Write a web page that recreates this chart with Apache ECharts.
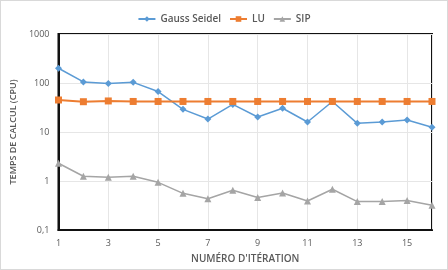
<!DOCTYPE html>
<html>
<head>
<meta charset="utf-8">
<script src="https://cdn.jsdelivr.net/npm/echarts@6/dist/echarts.min.js"></script>
<style>
    html, body { margin: 0; padding: 0; background: #fff; }
    #chart { width: 446px; height: 268px; border: 1px solid #d9d9d9; }
</style>
</head>
<body>
<div id="chart"></div>
<script>
    // itérations
    var iterations = [1, 2, 3, 4, 5, 6, 7, 8, 9, 10, 11, 12, 13, 14, 15, 16];
    // temps de calcul (CPU)
    var gaussSeidel = [200, 105, 98, 103, 67, 29, 18.4, 36.5, 20.2, 30.5, 16, 42, 15, 16, 17.5, 12.5];
    var lu = [45, 41.5, 43, 42, 42, 42, 42, 42, 42, 42, 42, 42, 42, 42, 42, 42];
    var sip = [2.3, 1.25, 1.19, 1.25, 0.94, 0.56, 0.435, 0.65, 0.46, 0.57, 0.39, 0.68, 0.38, 0.38, 0.4, 0.32];

    function pairs(vals) {
        return iterations.map(function (x, i) { return [x, vals[i]]; });
    }

    var font = 'Open Sans';
    var myChart = echarts.init(document.getElementById('chart'));
    myChart.setOption({
        animation: false,
        textStyle: { fontFamily: font },
        legend: {
            top: 8,
            left: 'center',
            itemWidth: 17,
            itemHeight: 7,
            itemGap: 8,
            textStyle: { color: '#595959', fontSize: 10, fontWeight: 600 },
            data: ['Gauss Seidel', 'LU', 'SIP']
        },
        grid: {
            left: 53, right: 15, top: 33, bottom: 39,
            show: true, borderColor: '#111', borderWidth: 2
        },
        xAxis: {
            type: 'value',
            min: 1, max: 16, interval: 2,
            name: "NUMÉRO D'ITÉRATION",
            nameLocation: 'middle',
            nameGap: 24,
            nameTextStyle: { color: '#595959', fontSize: 10, fontWeight: 600 },
            axisLine: { lineStyle: { color: '#111', width: 2 } },
            axisTick: { show: false },
            axisLabel: { color: '#595959', fontSize: 9, showMaxLabel: false, margin: 9 },
            splitLine: { lineStyle: { color: '#e6e6e6' } }
        },
        yAxis: {
            type: 'log',
            min: 0.1, max: 1000, logBase: 10,
            name: 'TEMPS DE CALCUL (CPU)',
            nameLocation: 'middle',
            nameGap: 30,
            nameTextStyle: { color: '#595959', fontSize: 9, fontWeight: 600 },
            axisLine: { show: true, lineStyle: { color: '#111', width: 2 } },
            axisTick: { show: false },
            axisLabel: {
                color: '#595959', fontSize: 9, margin: 9,
                formatter: function (v) { return String(v).replace('.', ','); }
            },
            splitLine: { lineStyle: { color: '#e6e6e6' } }
        },
        series: [
            {
                name: 'Gauss Seidel', type: 'line',
                symbol: 'diamond', symbolSize: 7,
                itemStyle: { color: '#5b9bd5' },
                lineStyle: { width: 1.5 },
                data: pairs(gaussSeidel)
            },
            {
                name: 'LU', type: 'line',
                symbol: 'rect', symbolSize: 7,
                itemStyle: { color: '#ed7d31' },
                lineStyle: { width: 2 },
                data: pairs(lu)
            },
            {
                name: 'SIP', type: 'line',
                symbol: 'triangle', symbolSize: 7,
                itemStyle: { color: '#a5a5a5' },
                lineStyle: { width: 1.5 },
                data: pairs(sip)
            }
        ]
    });
</script>
</body>
</html>
